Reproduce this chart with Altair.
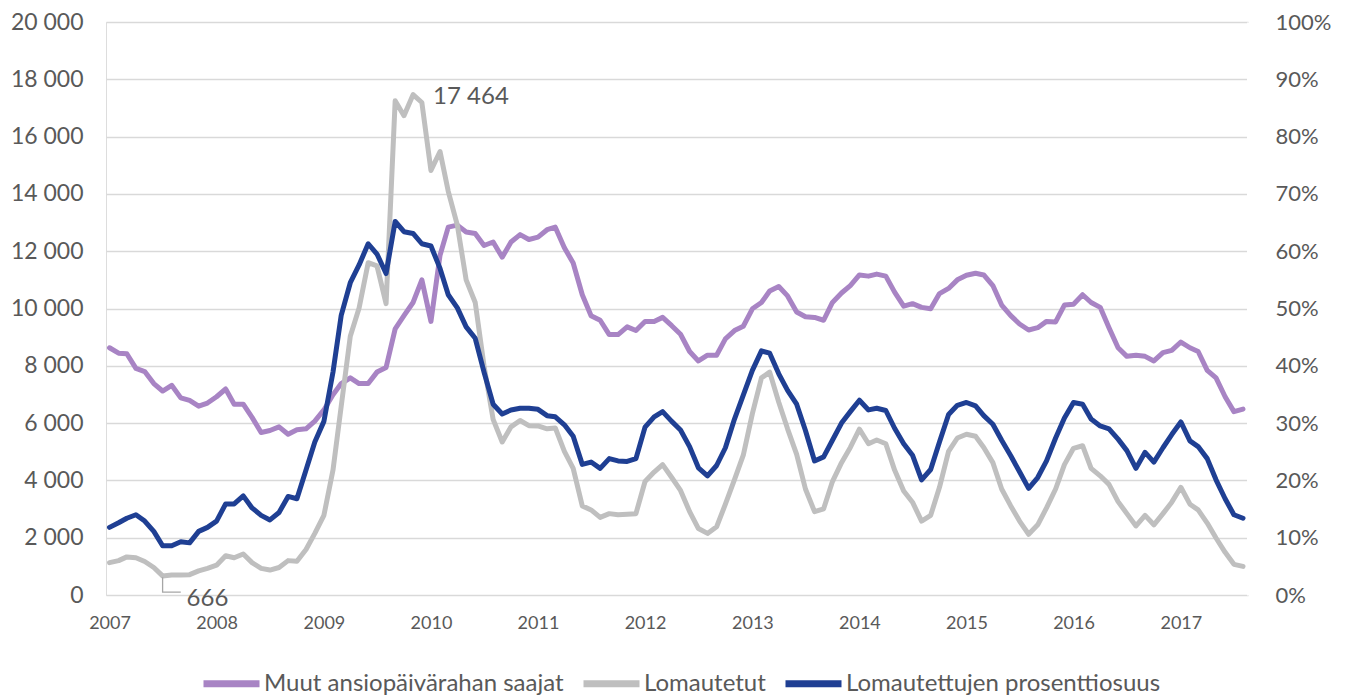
import altair as alt
import pandas as pd

names = ["Muut ansiopäivärahan saajat", "Lomautetut", "Lomautettujen prosenttiosuus"]
colors = ["#A884C4", "#BFBFBF", "#1F3F93"]

months = pd.date_range("2007-01-01", periods=128, freq="MS")

muut = [
    8630, 8440, 8420, 7910, 7800, 7380, 7120, 7320, 6880, 6790, 6590, 6700,
    6920, 7190, 6660, 6660, 6200, 5670, 5740, 5870, 5610, 5770, 5800, 6070,
    6460, 6990, 7380, 7580, 7380, 7380, 7780, 7940, 9290, 9750, 10210, 11000,
    9550, 11860, 12840, 12910, 12670, 12620, 12200, 12320, 11790, 12320, 12580, 12410,
    12490, 12750, 12840, 12120, 11590, 10480, 9750, 9590, 9090, 9090, 9360, 9230,
    9550, 9550, 9690, 9400, 9100, 8500, 8170, 8370, 8370, 8940, 9230, 9380,
    9990, 10210, 10610, 10770, 10440, 9880, 9710, 9690, 9590, 10210, 10540, 10800,
    11170, 11130, 11200, 11130, 10570, 10080, 10170, 10040, 9990, 10520, 10700, 11000,
    11160, 11230, 11170, 10800, 10120, 9750, 9460, 9250, 9330, 9550, 9530, 10120,
    10150, 10480, 10210, 10040, 9330, 8630, 8330, 8370, 8330, 8170, 8460, 8540,
    8830, 8630, 8500, 7840, 7580, 6920, 6400, 6490,
]

lomautetut = [
    1130, 1200, 1330, 1300, 1170, 960, 666, 700, 700, 710, 840, 930,
    1040, 1370, 1300, 1430, 1130, 930, 870, 960, 1200, 1180, 1590, 2150,
    2780, 4360, 6590, 9030, 10020, 11600, 11490, 10170, 17250, 16730, 17464, 17190,
    14820, 15480, 14090, 12910, 11000, 10210, 8000, 6130, 5340, 5870, 6090, 5910,
    5900, 5800, 5830, 5010, 4420, 3110, 2970, 2710, 2840, 2800, 2820, 2840,
    3960, 4290, 4550, 4100, 3650, 2910, 2320, 2150, 2380, 3170, 4030, 4880,
    6330, 7580, 7780, 6730, 5800, 4910, 3700, 2910, 3010, 3960, 4620, 5150,
    5790, 5280, 5410, 5280, 4360, 3630, 3240, 2580, 2780, 3760, 5010, 5480,
    5610, 5540, 5150, 4620, 3700, 3110, 2580, 2120, 2450, 3040, 3700, 4550,
    5120, 5210, 4420, 4160, 3860, 3260, 2840, 2410, 2780, 2450, 2840, 3240,
    3760, 3170, 2970, 2510, 1990, 1490, 1070, 1000,
]

osuus = [
    11.8, 12.6, 13.4, 14.0, 12.9, 11.1, 8.6, 8.6, 9.3, 9.1, 11.1, 11.8,
    12.9, 15.9, 15.9, 17.3, 15.2, 13.9, 13.1, 14.4, 17.2, 16.8, 21.8, 26.7,
    30.3, 38.9, 48.8, 54.5, 57.6, 61.3, 59.5, 56.1, 65.2, 63.4, 63.1, 61.3,
    60.9, 57.0, 52.4, 50.1, 46.8, 44.8, 38.9, 33.3, 31.6, 32.3, 32.6, 32.6,
    32.4, 31.3, 31.1, 29.7, 27.7, 22.8, 23.2, 22.1, 23.8, 23.4, 23.3, 23.8,
    29.3, 31.1, 32.0, 30.3, 28.8, 25.9, 22.2, 20.8, 22.6, 25.7, 30.7, 34.9,
    39.2, 42.6, 42.2, 38.6, 35.7, 33.3, 28.7, 23.4, 24.1, 27.0, 30.0, 32.0,
    34.0, 32.3, 32.6, 32.2, 29.1, 26.4, 24.4, 20.1, 21.9, 26.7, 31.5, 33.1,
    33.6, 33.0, 31.3, 29.8, 27.0, 24.3, 21.5, 18.6, 20.5, 23.4, 27.4, 30.9,
    33.6, 33.3, 30.7, 29.5, 29.0, 27.2, 25.2, 22.1, 24.9, 23.2, 25.7, 28.0,
    30.2, 26.9, 25.9, 23.8, 20.1, 16.8, 14.0, 13.4,
]

peak_label = {"date": pd.Timestamp("2009-11-01"), "value": 17464, "text": "17 464"}
min_label = {"date": pd.Timestamp("2007-07-01"), "value": 666, "text": "666"}
leader = pd.DataFrame({
    "date": [pd.Timestamp("2007-07-01"), pd.Timestamp("2007-07-01"), pd.Timestamp("2007-09-01")],
    "value": [620, 100, 100],
    "order": [0, 1, 2],
})

FONT = "Lato"
TXT = "#595959"
GRID = "#D9D9D9"

left_df = pd.concat([
    pd.DataFrame({"date": months, "value": muut, "series": names[0]}),
    pd.DataFrame({"date": months, "value": lomautetut, "series": names[1]}),
])
right_df = pd.DataFrame({"date": months, "pct": osuus, "series": names[2]})

xenc = alt.X(
    "date:T",
    title=None,
    scale=alt.Scale(domain=[alt.DateTime(year=2006, month=12, date=20),
                            alt.DateTime(year=2017, month=8, date=18)]),
    axis=alt.Axis(format="%Y", tickCount={"interval": "year", "step": 1},
                  grid=False, domain=False, ticks=False, labelFontSize=18,
                  labelColor=TXT, labelFont=FONT, labelPadding=19,
                  labelFlush=False, labelOverlap=False),
)

color = alt.Color(
    "series:N",
    scale=alt.Scale(domain=names, range=colors),
    legend=alt.Legend(orient="none", legendX=94, legendY=630, direction="horizontal",
                      title=None, symbolType="stroke", symbolStrokeWidth=7,
                      symbolSize=3136, labelFontSize=24, labelColor=TXT,
                      labelFont=FONT, columnPadding=5, labelOffset=1,
                      labelLimit=500),
)

yleft = alt.Y(
    "value:Q", title=None,
    scale=alt.Scale(domain=[0, 20000], nice=False),
    axis=alt.Axis(values=list(range(0, 20001, 2000)),
                  labelExpr="datum.value == 0 ? '0' : floor(datum.value / 1000) + ' 000'",
                  grid=True, gridColor=GRID, gridWidth=1.3, domain=False,
                  ticks=False, labelFontSize=23, labelColor=TXT, labelFont=FONT,
                  labelPadding=23),
)

lines_left = alt.Chart(left_df).mark_line(strokeWidth=5, strokeJoin="round", strokeCap="round").encode(
    x=xenc, y=yleft, color=color, order=alt.Order("date:T"), detail="series:N"
)

peak_text = alt.Chart(pd.DataFrame([peak_label])).mark_text(
    align="left", baseline="middle", dx=20, dy=2, fontSize=24, font=FONT, color=TXT
).encode(x=xenc, y=yleft, text="text:N")

min_text = alt.Chart(pd.DataFrame([min_label])).mark_text(
    align="left", baseline="middle", dx=24, dy=23, fontSize=24, font=FONT, color=TXT
).encode(x=xenc, y=yleft, text="text:N")

leader_line = alt.Chart(leader).mark_line(color="#A6A6A6", strokeWidth=1.3).encode(
    x=xenc, y=yleft, order="order:Q"
)

left = alt.layer(lines_left, leader_line, peak_text, min_text)

right = alt.Chart(right_df).mark_line(strokeWidth=5, strokeJoin="round", strokeCap="round").encode(
    x=xenc,
    y=alt.Y("pct:Q", title=None,
            scale=alt.Scale(domain=[0, 100], nice=False),
            axis=alt.Axis(orient="right", values=list(range(0, 101, 10)),
                          labelExpr="datum.value + '%'", grid=False,
                          domain=True, domainColor="white", domainWidth=3,
                          ticks=False, labelFontSize=22,
                          labelColor=TXT, labelFont=FONT,
                          labelPadding=27, labelAlign="left")),
    color=color,
)

chart = alt.layer(left, right).resolve_scale(y="independent").properties(
    width=1142, height=573,
    autosize=alt.AutoSizeParams(type="none"),
    padding={"left": 98, "top": 14, "right": 90, "bottom": 102},
).configure_view(
    strokeWidth=0, stroke="transparent"
).configure(background="white")

chart.save("out.html", embed_options={"renderer": "svg", "actions": False})
